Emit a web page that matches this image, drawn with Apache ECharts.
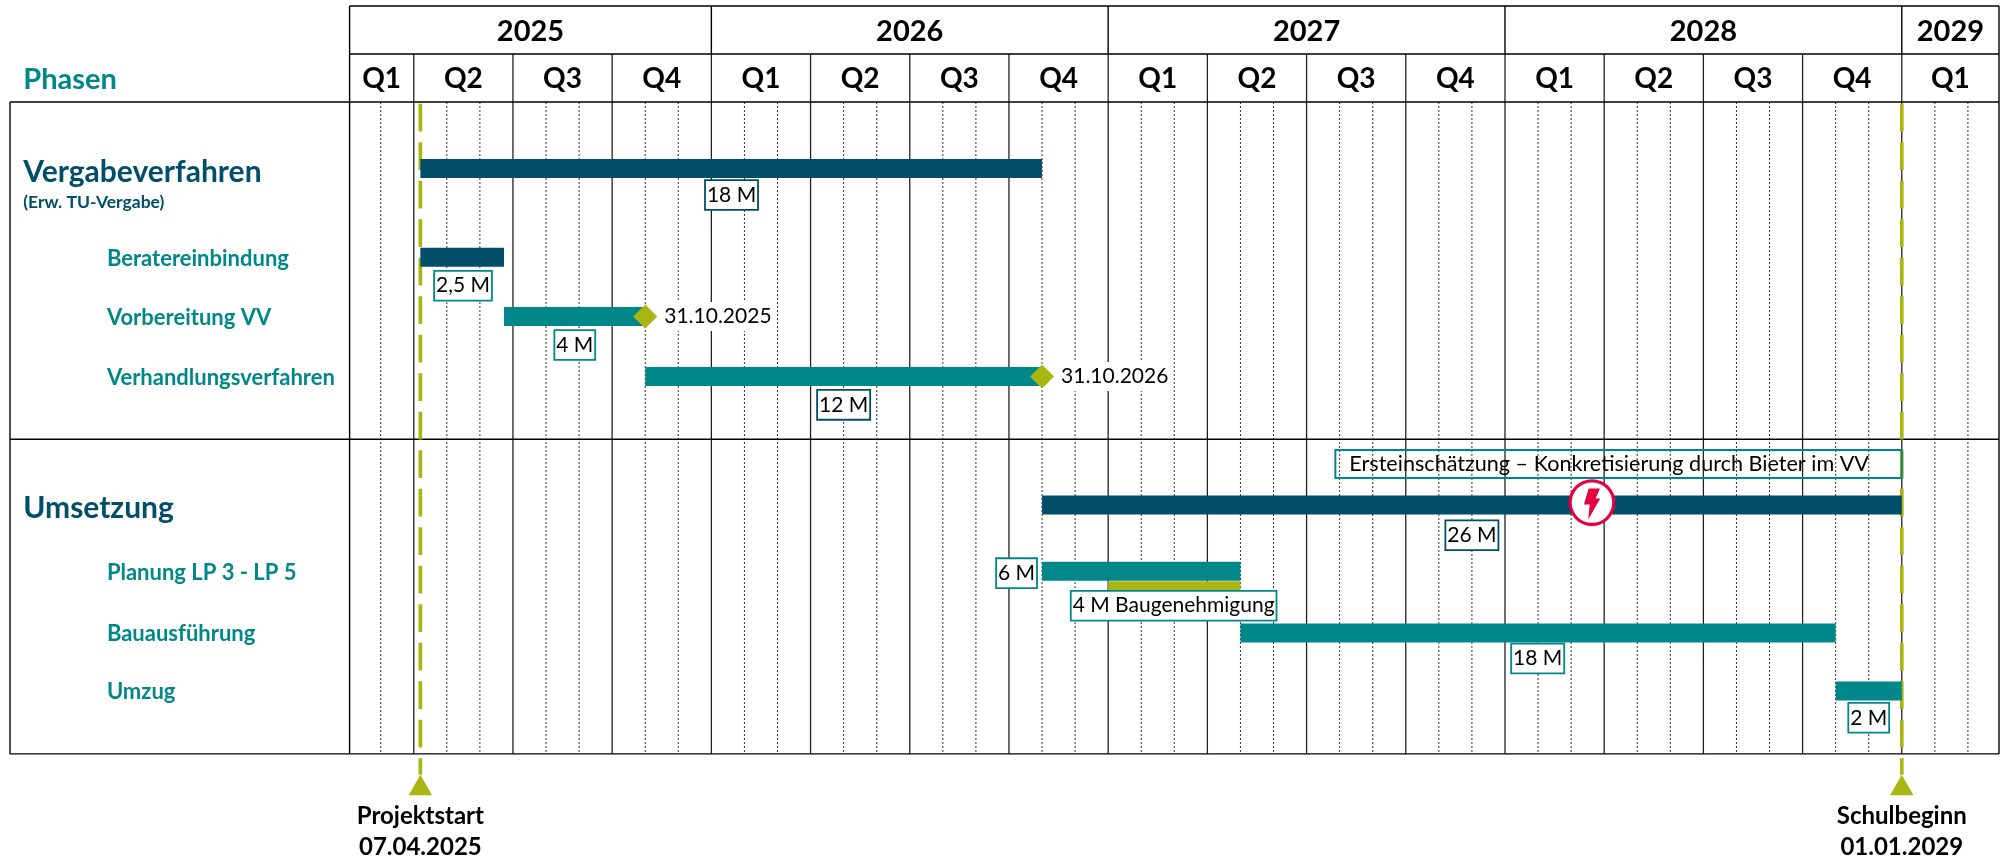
<!DOCTYPE html>
<html><head><meta charset="utf-8">
<style>html,body{margin:0;padding:0;background:#fff}#c{width:2000px;height:857px}</style>
<script src="https://cdn.jsdelivr.net/npm/echarts@6/dist/echarts.min.js"></script>
</head><body><div id="c"></div>
<script>
// Time is in months since Jan 2025, rows are the chart's row units.
const AXIS_START = 1.06, AXIS_END = 50.94, LABEL_START = -9.21;
const years = ['2025','2026','2027','2028','2029'];
const yearEdges = [AXIS_START,12,24,36,48,AXIS_END];
const quarters = ['Q1','Q2','Q3','Q4','Q1','Q2','Q3','Q4','Q1','Q2','Q3','Q4','Q1','Q2','Q3','Q4','Q1'];
const quarterEdges = [AXIS_START,3,6,9,12,15,18,21,24,27,30,33,36,39,42,45,48,AXIS_END];
const monthLines = [2,4,5,7,8,10,11,13,14,16,17,19,20,22,23,25,26,28,29,31,32,34,35,37,38,40,41,43,44,46,47,49,50];
const separators = [5.69];
// name, row, start, end, colour key
const bars = [
 ['Vergabeverfahren',1.12,3.2,22,'dark'],
 ['Beratereinbindung',2.62,3.2,5.73,'dark'],
 ['Vorbereitung VV',3.62,5.73,10,'teal'],
 ['Verhandlungsverfahren',4.63,10,22,'teal'],
 ['Umsetzung',6.8,22,48,'dark'],
 ['Planung LP 3 - LP 5',7.92,22,28,'teal'],
 ['Bauausführung',8.96,28,46,'teal'],
 ['Umzug',9.94,46,48,'teal']
];
const permitBar = [[8.17,24,28]];
const phaseTitles = [['Phasen',-0.37,'teal',29],['Vergabeverfahren',1.18,'dark',30],['(Erw. TU-Vergabe)',1.69,'dark',17.5],['Umsetzung',6.86,'dark',30]];
const phaseRows = [['Beratereinbindung',2.64],['Vorbereitung VV',3.64],['Verhandlungsverfahren',4.65],['Planung LP 3 - LP 5',7.94],['Bauausführung',8.98],['Umzug',9.96]];
const durations = [
 ['18 M',1.57,12.61,'dark'],['2,5 M',3.10,4.49,'teal'],['4 M',4.10,7.87,'teal'],['12 M',5.11,16.0,'dark'],
 ['26 M',7.31,35.0,'dark'],['6 M',7.95,21.23,'teal'],['4 M Baugenehmigung',8.50,25.98,'teal'],['18 M',9.39,36.99,'teal'],['2 M',10.39,47.0,'teal']
];
const note = ['Ersteinschätzung – Konkretisierung durch Bieter im VV',6.11,30.87,48];
const milestones = [['31.10.2025',3.62,10],['31.10.2026',4.63,22]];
const risk = [[6.76,38.63]];
const deadlines = [['Projektstart','07.04.2025',3.2],['Schulbeginn','01.01.2029',48]];

const C = {dark:'#004E6A',teal:'#00878A',olive:'#ABB511',red:'#E5003F',ink:'#000'};
const FONT = 'Lato';
const ROW_TOP=-1.62, ROW_HEAD=-0.81, ROW_BOTTOM=11, ROW_END=12.74;

function custom(data, z, fn){
  return {type:'custom',coordinateSystem:'cartesian2d',clip:false,silent:true,z,animation:false,
    data:data.map((d,i)=>[i]),encode:{x:0,y:0},
    renderItem:(p,api)=>fn(data[p.dataIndex],api)};
}
const line=(api,x0,y0,x1,y1,style)=>{const a=api.coord([x0,y0]),b=api.coord([x1,y1]);
  return {type:'line',shape:{x1:a[0],y1:a[1],x2:b[0],y2:b[1]},style:Object.assign({stroke:'#000',lineWidth:1.4,fill:null},style)};};
const txt=(x,y,text,size,fill,weight,extra)=>({type:'text',x,y,style:Object.assign({text,fontSize:size,fontFamily:FONT,fontWeight:weight||'normal',fill:fill||'#000',align:'center',verticalAlign:'middle'},extra||{})});
const rectFor=(api,x0,x1,y,h,fill)=>{const a=api.coord([x0,y]),b=api.coord([x1,y]);
  return {type:'rect',shape:{x:a[0],y:a[1]-h/2,width:b[0]-a[0],height:h},style:{fill}};};

const option={animation:false,
 grid:{left:10,width:1989,top:6,height:851,containLabel:false},
 xAxis:{type:'value',min:LABEL_START,max:AXIS_END,show:false},
 yAxis:{type:'value',min:ROW_TOP,max:ROW_END,inverse:true,show:false},
 series:[
  custom(monthLines,2,(m,api)=>line(api,m,0,m,ROW_BOTTOM,{lineWidth:1,lineDash:[2,2],stroke:'#333'})),
  custom(quarterEdges.slice(1,-1),3,(m,api)=>line(api,m,ROW_HEAD,m,ROW_BOTTOM,{lineWidth:1.3,stroke:'#222'})),
  custom(yearEdges.slice(1,-1),3,(m,api)=>line(api,m,ROW_TOP,m,ROW_HEAD,{})),
  custom([[ROW_TOP,AXIS_START],[ROW_HEAD,AXIS_START],[0,LABEL_START],[ROW_BOTTOM,LABEL_START]].concat(separators.map(s=>[s,LABEL_START])),3,
    (d,api)=>line(api,d[1],d[0],AXIS_END,d[0],{})),
  custom([[LABEL_START,0],[AXIS_START,ROW_TOP],[AXIS_END,ROW_TOP]],3,(d,api)=>line(api,d[0],d[1],d[0],ROW_BOTTOM,{})),
  custom(years,4,(y,api)=>{const i=years.indexOf(y);const c=api.coord([(yearEdges[i]+yearEdges[i+1])/2,(ROW_TOP+ROW_HEAD)/2]);
    return txt(c[0],c[1]+1.5,y,29,'#000','bold');}),
  custom(quarters.map((q,i)=>[q,i]),4,(d,api)=>{const c=api.coord([(quarterEdges[d[1]]+quarterEdges[d[1]+1])/2,ROW_HEAD/2]);
    return txt(c[0],c[1]+1,d[0],28,'#000','bold');}),
  custom(phaseTitles,6,(d,api)=>{const c=api.coord([LABEL_START+0.4,d[1]]);
    return txt(c[0],c[1],d[0],d[3],C[d[2]],'bold',{align:'left'});}),
  custom(phaseRows,6,(d,api)=>{const c=api.coord([LABEL_START+2.93,d[1]]);
    return txt(c[0],c[1],d[0],22,C.teal,'bold',{align:'left'});}),
  custom(deadlines,5,(d,api)=>{const c=api.coord([d[2],0.03]),e=api.coord([d[2],ROW_BOTTOM+0.35]);
    return {type:'line',shape:{x1:c[0],y1:c[1],x2:e[0],y2:e[1]},style:{stroke:C.olive,lineWidth:3.7,lineDash:[27.7,10.8]}};}),
  custom(bars,6,(d,api)=>rectFor(api,d[2],d[3],d[1],19,C[d[4]])),
  custom(permitBar,6,(d,api)=>rectFor(api,d[1],d[2],d[0],10,C.olive)),
  custom(milestones,7,(d,api)=>{const c=api.coord([d[2],d[1]]);
    return {type:'group',children:[
      txt(c[0]+18,c[1],d[0],21,'#000','normal',{align:'left',backgroundColor:'#fff',padding:[4,1]}),
      {type:'polygon',shape:{points:[[c[0],c[1]-12],[c[0]+12,c[1]],[c[0],c[1]+12],[c[0]-12,c[1]]]},style:{fill:C.olive}}]};}),
  custom(durations,8,(d,api)=>{const c=api.coord([d[2],d[1]]);
    return txt(c[0],c[1],d[0],21,'#000','normal',{backgroundColor:'#fff',borderColor:C[d[3]],borderWidth:1.8,padding:[4,1,3,1]});}),
  custom([note],8,(d,api)=>{const a=api.coord([d[2],d[1]]),b=api.coord([d[3],d[1]]);
    return {type:'group',children:[
      {type:'rect',shape:{x:a[0],y:a[1]-14,width:b[0]-a[0],height:28},style:{fill:'none',stroke:C.teal,lineWidth:2}},
      txt(a[0]+14,a[1],d[0],21.6,'#000','normal',{align:'left'})]};}),
  custom(risk,9,(d,api)=>{const c=api.coord([d[1],d[0]]);const X=c[0],Y=c[1];
    const bolt=[[-3.3,-14],[8,-14],[3.7,-4],[8.3,-4],[-3.7,17],[-2.3,2],[-8,2]].map(p=>[X+p[0],Y+p[1]]);
    return {type:'group',children:[
      {type:'circle',shape:{cx:X,cy:Y,r:21.8},style:{fill:'#fff',stroke:C.red,lineWidth:3.2}},
      {type:'polygon',shape:{points:bolt},style:{fill:C.red}}]};}),
  custom(deadlines,9,(d,api)=>{const a=api.coord([d[2],ROW_BOTTOM+0.35]);const X=a[0],Y=a[1];
    const t=api.coord([d[2],ROW_BOTTOM+0.7]);
    return {type:'polygon',shape:{points:[[X,Y],[X+11.7,t[1]],[X-11.7,t[1]]]},style:{fill:C.olive}};}),
  custom(deadlines,9,(d,api)=>{const a=api.coord([d[2],12.05]),b=api.coord([d[2],12.58]);
    return {type:'group',children:[txt(a[0],a[1],d[0],24,'#000','bold'),txt(b[0],b[1],d[1],24,'#000','bold')]};})
 ]};
echarts.init(document.getElementById('c'),null,{renderer:'canvas'}).setOption(option);
</script></body></html>
